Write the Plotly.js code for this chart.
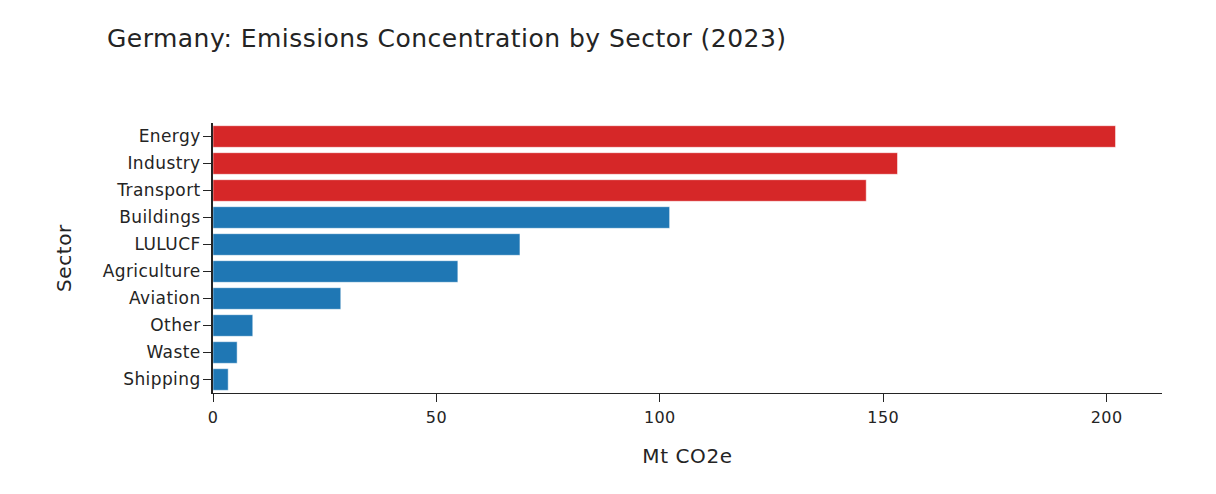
<!DOCTYPE html>
<html><head><meta charset="utf-8">
<script src="https://cdn.plot.ly/plotly-3.0.1.min.js"></script>
<style>html,body{margin:0;padding:0;background:#fff}#c{width:1216px;height:494px}
.gtitle{letter-spacing:.47px}
.xtitle,.ytitle{letter-spacing:.6px}
.ytick text,.xtick text{letter-spacing:.4px}
</style>
</head><body><div id="c"></div>
<script>
const sectors = ["Energy","Industry","Transport","Buildings","LULUCF","Agriculture","Aviation","Other","Waste","Shipping"];
const emissions = [202,153.2,146.2,102.2,68.7,54.8,28.6,8.9,5.4,3.4];
const barColors = ["#d62728","#d62728","#d62728","#1f77b4","#1f77b4","#1f77b4","#1f77b4","#1f77b4","#1f77b4","#1f77b4"];
const fontFamily = '"DejaVu Sans", Verdana, sans-serif';
const ink = "rgb(36,36,36)";
Plotly.newPlot("c",[{
  type:"bar",orientation:"h",x:emissions,y:sectors,
  marker:{color:barColors,line:{color:"white",width:0.5}}
}],{
  width:1216,height:494,
  margin:{l:213,r:54,t:123,b:101},
  paper_bgcolor:"white",plot_bgcolor:"white",
  font:{family:fontFamily,size:16,color:ink},
  title:{text:"Germany: Emissions Concentration by Sector (2023)",x:0.088,xanchor:"left",y:0.922,yanchor:"middle",font:{family:fontFamily,size:25,color:ink}},
  bargap:0.2,showlegend:false,
  xaxis:{title:{text:"Mt CO2e",font:{size:20,color:ink},standoff:22},range:[0,212.4],tick0:0,dtick:50,
    showgrid:false,zeroline:false,showline:true,linecolor:ink,linewidth:1,ticks:"outside",tickcolor:ink,ticklen:8,tickwidth:1,ticklabelstandoff:2,
    tickfont:{size:16,color:ink},automargin:false},
  yaxis:{title:{text:"Sector",font:{size:20,color:ink},standoff:26},autorange:"reversed",
    showgrid:false,zeroline:false,showline:true,linecolor:ink,linewidth:2,ticks:"outside",tickcolor:ink,ticklen:8,tickwidth:1,ticklabelstandoff:-1,
    tickfont:{size:17,color:ink},automargin:false}
},{displayModeBar:false,responsive:false});
</script></body></html>
